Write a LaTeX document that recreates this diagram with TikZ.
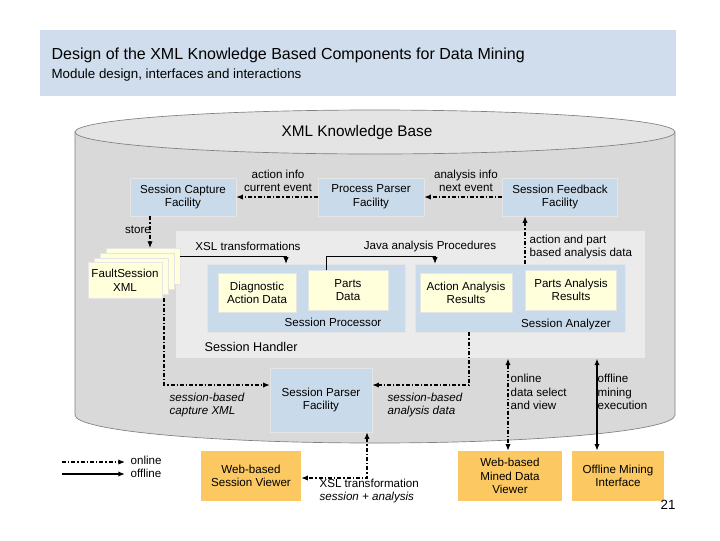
\documentclass[tikz,border=0pt]{standalone}
\usepackage{fontspec}
\setmainfont{Liberation Sans}
\usetikzlibrary{arrows.meta}
\definecolor{tbl}{HTML}{CFDDEC}
\definecolor{bx}{HTML}{C9DAEA}
\definecolor{yl}{HTML}{FFFFDC}
\definecolor{og}{HTML}{FBC862}
\definecolor{cyl}{HTML}{D9D9D9}
\definecolor{cyltop}{HTML}{E4E4E4}
\definecolor{sh}{HTML}{EBEBEB}
\begin{document}
\begin{tikzpicture}[x=0.75pt,y=-0.75pt,
  every node/.style={font=\fontsize{8.7}{10.2}\selectfont,align=center,inner sep=1pt},
  bbox/.style={fill=bx,draw=white!80!gray,line width=0.4pt},
  ybox/.style={fill=yl,draw=white!80!gray,line width=0.4pt},
  obox/.style={fill=og,draw=none},
  on/.style={line width=0.9pt,dash pattern=on 3pt off 1.5pt on 1pt off 1.5pt,-{Latex[length=5pt,width=4pt]}},
  off/.style={line width=1.2pt,-{Latex[length=5pt,width=4pt]}},
  conn/.style={line width=0.6pt,-{Latex[length=5pt,width=4pt]}},
  lbl/.style={align=left,anchor=west}]
\useasboundingbox (0,0) rectangle (720,540);
\fill[white] (0,0) rectangle (720,540);
% title
\node[fill=tbl,minimum width=636*0.75pt,minimum height=66*0.75pt,anchor=north west,inner sep=0] (title) at (40,30) {};
\node[anchor=west,font=\fontsize{12}{14}\selectfont] (t1) at (50,55) {Design of the XML Knowledge Based Components for Data Mining};
\node[anchor=west,font=\fontsize{10}{12}\selectfont] (t2) at (50,75) {Module design, interfaces and interactions};
% cylinder
\draw[fill=cyl,draw=gray,line width=0.5pt] (75,132) -- (75,415) arc[start angle=180,end angle=0,x radius=300,y radius=28] -- (675,132) -- cycle;
\draw[fill=cyltop,draw=gray,line width=0.5pt] (375,132) ellipse[x radius=300,y radius=22];
\node[font=\fontsize{11.5}{13}\selectfont] (kb) at (357,133) {XML Knowledge Base};
% session handler
\node[fill=sh,draw=white!70!gray,anchor=north west,minimum width=470*0.75pt,minimum height=128*0.75pt,inner sep=0] (handler) at (175,230) {};
\node[anchor=west,font=\fontsize{9.5}{11}\selectfont] (hl) at (203,347) {Session Handler};
% top row
\node[bbox,minimum width=106*0.75pt,minimum height=38*0.75pt] (cap) at (183,197) {Session Capture\\Facility};
\node[bbox,minimum width=106*0.75pt,minimum height=38*0.75pt] (pp) at (371,197) {Process Parser\\Facility};
\node[bbox,minimum width=115*0.75pt,minimum height=38*0.75pt] (fb) at (560,197) {Session Feedback\\Facility};
\node (ai) at (278,181) {action info\\current event};
\node (ni) at (466,181) {analysis info\\next event};
\draw[on] (pp.west) -- (cap.east);
\draw[on] (fb.west) -- (pp.east);
% processor and analyzer
\node[bbox,minimum width=198*0.75pt,minimum height=68*0.75pt] (proc) at (306,298) {};
\node (procl) at (333,322) {Session Processor};
\node[ybox,minimum width=78*0.75pt,minimum height=39*0.75pt] (diag) at (257,293) {Diagnostic\\Action Data};
\node[ybox,minimum width=80*0.75pt,minimum height=40*0.75pt] (parts) at (348,290) {Parts\\Data};
\node[bbox,minimum width=210*0.75pt,minimum height=68*0.75pt] (ana) at (520,298) {};
\node (anal) at (566,324) {Session Analyzer};
\node[ybox,minimum width=92*0.75pt,minimum height=39*0.75pt] (aar) at (466,293) {Action Analysis\\Results};
\node[ybox,minimum width=91*0.75pt,minimum height=40*0.75pt] (par) at (571,290) {Parts Analysis\\Results};
% stack
\node[ybox,minimum width=74*0.75pt,minimum height=36*0.75pt] (s3) at (143,266) {};
\node[ybox,minimum width=74*0.75pt,minimum height=36*0.75pt] (s2) at (137,271) {};
\node[ybox,minimum width=74*0.75pt,minimum height=36*0.75pt] (s1) at (131,276) {};
\node[ybox,minimum width=74*0.75pt,minimum height=36*0.75pt] (s0) at (125,280) {FaultSession\\XML};
\node (store) at (138,230) {store};
\draw[on] (cap.south -| 150,0) -- (150,248);
\coordinate (xa) at (180,256);
\draw[conn] (xa) -| (proc.north -| 286,0);
\node (xsl) at (248,246) {XSL transformations};
\draw[conn] (parts.north -| 326,0) |- (435,256) -- (ana.north -| 435,0);
\node (java) at (430,246) {Java analysis Procedures};
\draw[on] (ana.north -| 525,0) -- (fb.south -| 525,0);
\node[lbl] (ap) at (528,247) {action and part\\based analysis data};
% session parser
\node[bbox,minimum width=102*0.75pt,minimum height=64*0.75pt] (spf) at (321,400) {Session Parser\\Facility};
\draw[on] (s0.south -| 164,0) |- (spf.west |- 0,385);
\draw[on] (ana.south -| 469,0) |- (spf.east |- 0,385);
\node[lbl,font=\fontsize{8.7}{10.2}\selectfont\itshape] (sbc) at (168,405) {session-based\\capture XML};
\node[lbl,font=\fontsize{8.7}{10.2}\selectfont\itshape] (sba) at (386,405) {session-based\\analysis data};
% bottom boxes
\node[obox,minimum width=100*0.75pt,minimum height=50*0.75pt] (wsv) at (251,476) {Web-based\\Session Viewer};
\node[obox,minimum width=104*0.75pt,minimum height=50*0.75pt] (mdv) at (510,476) {Web-based\\Mined Data\\Viewer};
\node[obox,minimum width=92*0.75pt,minimum height=50*0.75pt] (omi) at (618,476) {Offline Mining\\Interface};
\draw[on,{Latex[length=5pt,width=4pt]}-{Latex[length=5pt,width=4pt]}] (spf.south -| 367,0) |- (wsv.east |- 0,478);
\node[lbl] (xt) at (318,491) {XSL transformation\\\textit{session + analysis}};
\draw[on,{Latex[length=5pt,width=4pt]}-{Latex[length=5pt,width=4pt]}] (handler.south -| 508,0) -- (mdv.north -| 508,0);
\node[lbl] (od) at (509,392) {online\\data select\\and view};
\draw[off,{Latex[length=5pt,width=4pt]}-{Latex[length=5pt,width=4pt]}] (handler.south -| 597,0) -- (omi.north -| 597,0);
\node[lbl] (om) at (596,392) {offline\\mining\\execution};
% legend
\coordinate (l1a) at (62,462); \coordinate (l1b) at (125,462);
\coordinate (l2a) at (62,474); \coordinate (l2b) at (125,474);
\draw[on] (l1a) -- (l1b);
\draw[off] (l2a) -- (l2b);
\node[lbl] (lon) at (129,460) {online};
\node[lbl] (loff) at (129,473) {offline};
\node[font=\fontsize{10}{12}\selectfont] (pg) at (668,505) {21};
\end{tikzpicture}
\end{document}
